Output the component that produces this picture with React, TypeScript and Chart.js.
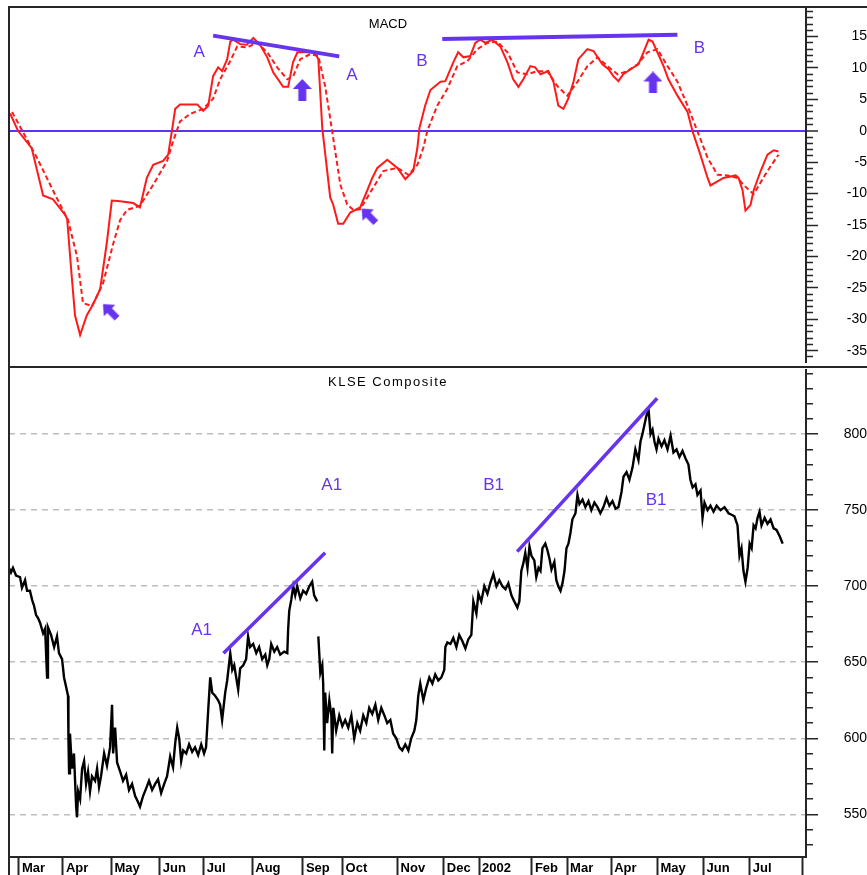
import React, { useEffect, useRef } from 'react';
import { Chart, registerables } from 'chart.js';

Chart.register(...registerables);

const FONT = "'Liberation Sans', Arial, Helvetica, sans-serif";
const RED = '#ff1a1a';
const BLUE = '#6633ee';
const INK = '#262626';

// x axis: trading-day index
const dayMin = 0;
const dayMax = 362;

const monthStarts = [4.5, 24.5, 46.5, 68.5, 88.5, 110.5, 133.5, 151.5, 176.5, 197.5, 213.5, 237.5, 253.5, 273.5, 294.5, 315.5, 336.5, 360.5];
const monthLabels = ['Mar', 'Apr', 'May', 'Jun', 'Jul', 'Aug', 'Sep', 'Oct', 'Nov', 'Dec', '2002', 'Feb', 'Mar', 'Apr', 'May', 'Jun', 'Jul', ''];

// MACD panel
const macdMin = -36.8;
const macdMax = 19.55;

const macdLine: [number, number][] = [
  [0.5, 2.75], [4.1, 0], [10.3, -2.75], [15.5, -10.3], [20, -10.9], [25.5, -13.4], [26.4, -14], [28.5, -23.2],
  [30, -29.4], [32.3, -32.5], [35.3, -29.4], [38.2, -27.6], [41.4, -25.2], [44.4, -17.9], [46.7, -11.1], [50.5, -11.2],
  [56.4, -11.5], [59.5, -12.2], [62.6, -7.5], [65.5, -5.4], [70, -4.8], [72.3, -3.8], [74, 0], [75.5, 3.5],
  [77.7, 4.2], [85.5, 4.2], [88.2, 3.2], [90.5, 4], [92.7, 8.7], [95, 10.1], [96.8, 9.5], [99.1, 11.4],
  [100.5, 14.2], [101.8, 14.5], [105, 13.8], [108, 13.7], [111, 14.8], [114, 13.7], [117.3, 11.7], [120, 9.3],
  [124.5, 7], [126.8, 7], [129, 10.9], [131, 12.5], [139, 12.5], [140.5, 11.4], [142.3, 0.4], [145.9, -10.6],
  [147.3, -11.8], [149.5, -14.8], [151.8, -14.8], [155, -13], [159.5, -12.2], [162.7, -9.5], [165, -7.5], [167.3, -5.9],
  [171.8, -4.6], [176.4, -5.9], [180, -7.7], [183.6, -6.4], [185.5, -2.7], [186.4, 0.4], [189, 4], [191.4, 6.5],
  [196, 7.8], [198.2, 7.9], [201.8, 10.9], [204, 12.5], [206.4, 11.7], [209.5, 11.9], [211.8, 14], [214, 14.5],
  [216.4, 14], [219.5, 14.5], [223.2, 13.4], [226.4, 10.9], [229, 8.2], [231.4, 7], [233.6, 8.2], [236.8, 10.3],
  [239, 10.1], [241.4, 9], [245, 9.5], [247.3, 7.8], [249.5, 4], [251.8, 3.5], [254, 5.1], [256.4, 7.8],
  [258.6, 11.4], [262.7, 13], [265.5, 12.7], [269.5, 10.6], [272.3, 9.8], [274.5, 8.7], [276.8, 7.9], [279, 9],
  [282.3, 9.8], [285.9, 10.6], [288.2, 12.5], [290.5, 14.5], [292.3, 14.2], [294.5, 12.5], [297.3, 10.3], [299.5, 8.2],
  [303.6, 5.6], [308.2, 3], [310.5, -0.1], [314, -3.8], [317.3, -7.5], [318.6, -8.7], [324.5, -7.5], [330, -7.1],
  [331.4, -7.5], [333.2, -9.5], [334.5, -12.7], [336.8, -11.8], [338.2, -9.5], [341.4, -6.4], [344.5, -3.8], [347.3, -3.1],
  [349.5, -3.3],
];

const signalLine: [number, number][] = [
  [1.4, 3], [12.7, -4.3], [20, -9.5], [22.3, -11.1], [26.8, -14.2], [30.9, -20], [33.6, -27.4], [37.7, -27.9],
  [42.7, -24.3], [47.3, -18], [50.5, -14.2], [53.6, -12.6], [59.5, -11.9], [65.5, -8.6], [67.3, -7.5], [71.8, -4.8],
  [74.5, -1.7], [77.7, 1.5], [82.3, 2.7], [88.2, 3.5], [92.7, 5.1], [95.9, 8.2], [100.5, 11.1], [103.6, 13.4],
  [108.2, 13.3], [112.7, 14], [117.3, 12.5], [121.8, 10.1], [126.4, 8.2], [129.1, 8.7], [132.3, 11.4], [136.8, 12.2],
  [140.5, 11.9], [143.6, 7.1], [146.8, -0.1], [150.5, -8.6], [153.6, -11.7], [156.4, -12.6], [159.5, -12.5], [165.5, -9],
  [170, -6.4], [176.4, -5.9], [181.4, -7], [185.5, -5.4], [188.2, -2.7], [190, 0], [194.5, 4], [199.1, 6.7],
  [203.6, 10.3], [208.2, 11.1], [212.7, 13], [217.3, 14], [221.8, 14.2], [226.4, 12.5], [230.9, 9.3], [235.5, 9],
  [240, 9.5], [244.5, 9.5], [249.1, 7.1], [253.6, 5.6], [258.2, 7.8], [262.7, 10.3], [267.3, 11.7], [271.8, 10.3],
  [276.4, 9], [280.9, 9.5], [285.5, 10.6], [290, 12.5], [294.5, 13], [299.1, 10.3], [303.6, 7.8], [308.2, 4],
  [312.7, -0.1], [317.3, -4.3], [321.8, -7], [326.4, -7.1], [330.9, -7.5], [333.6, -8.6], [338.2, -10.1], [341.4, -8.2],
  [344.5, -6.4], [349.5, -3.8],
];

const trendA: [number, number][] = [[92.7, 15.15], [150, 11.85]];
const trendB: [number, number][] = [[196.8, 14.6], [303.6, 15.3]];

const arrowDays = [133.2, 292.5, 45.9, 163.4];
const arrowValues = [6.5, 7.7, -28.7, -13.5];
const arrowAngles = [0, 0, -45, -45];
const arrowBig = [true, true, false, false];

const macdText = ['A', 'A', 'B', 'B'];
const macdTextDays = [86.4, 155.7, 187.5, 313.6];
const macdTextValues = [12.5, 8.8, 11.1, 13.1];

// Price panel
const priceMin = 521.9;
const priceMax = 842.2;

const priceLine: [number, number | null][] = [
  [0, 712], [0.9, 709], [1.8, 712], [3.2, 707], [5, 706], [5.9, 699], [7.3, 704], [8.2, 697], [9.5, 697], [10.5, 691],
  [11.4, 687], [12.3, 681], [13.2, 679], [14.1, 676], [15.5, 669], [16.4, 672], [17.3, 640], [17.7, 673], [19.1, 668], [20.5, 660],
  [21.8, 667], [22.7, 656], [24.1, 652], [25, 640], [25.9, 634], [26.8, 628], [27, 600], [27.3, 577], [27.7, 603], [28.6, 580],
  [29.5, 590], [30.5, 555], [30.9, 548], [31.4, 565], [32.3, 560], [33.2, 580], [34.1, 585], [35, 570], [35.9, 578], [36.8, 565],
  [37.7, 575], [39.1, 572], [40, 580], [40.9, 568], [41.8, 575], [43.2, 590], [44.5, 582], [45.9, 594], [46.8, 622], [47.3, 590],
  [48.2, 607], [49.1, 584], [50.5, 578], [51.8, 572], [53.2, 576], [54.5, 566], [55.9, 570], [57.3, 562], [58.6, 558], [59.5, 555],
  [60.9, 562], [62.3, 567], [63.6, 572], [65, 566], [66.4, 570], [67.7, 573], [69.1, 564], [70.5, 570], [71.8, 575], [73.2, 588],
  [74.5, 581], [75.5, 597], [76.4, 607], [77.3, 600], [78.2, 585], [79.1, 592], [80.5, 590], [81.8, 596], [83.2, 591], [84.5, 594],
  [85.9, 589], [87.3, 596], [88.6, 590], [89.5, 594], [90.5, 619], [91.4, 640], [92.3, 630], [93.6, 628], [95, 625], [95.9, 622],
  [96.8, 612], [98.2, 630], [99.1, 638], [100.5, 656], [101.4, 645], [102.3, 648], [103.2, 640], [104.1, 632], [105, 646], [106.4, 648],
  [107.7, 652], [108.6, 667], [109.5, 660], [110.9, 662], [112.3, 656], [113.6, 660], [115, 652], [116.4, 655], [117.3, 648], [118.2, 652],
  [119.1, 662], [120.5, 657], [121.8, 660], [123.2, 655], [125, 657], [126.4, 656], [126.8, 672], [127.3, 684], [128.2, 691], [129.1, 700],
  [130, 694], [130.9, 700], [132.3, 692], [133.6, 697], [135, 695], [136.4, 700], [137.7, 703], [138.6, 694], [140, 690], [140.2, null],
  [140.5, 667], [141.4, 643], [142.3, 648], [142.7, 636], [143.2, 592], [143.6, 630], [144.5, 610], [145.5, 625], [146.4, 615], [146.8, 590],
  [147.3, 620], [148.6, 605], [150, 615], [151.4, 608], [152.7, 612], [154.1, 607], [155.5, 615], [156.8, 600], [158.2, 610], [159.5, 605],
  [160.9, 615], [162.3, 610], [163.6, 620], [165, 616], [166.4, 622], [167.7, 612], [169.1, 620], [170.5, 615], [171.8, 610], [173.2, 612],
  [174.5, 603], [175.9, 600], [177.3, 594], [178.6, 592], [180, 596], [181.4, 592], [182.7, 600], [184.1, 605], [185, 612], [185.9, 628],
  [186.8, 636], [188.2, 625], [189.5, 633], [190.9, 640], [192.3, 636], [193.6, 642], [195, 638], [196.4, 640], [197.7, 645], [198.2, 660],
  [199.1, 663], [200.5, 662], [201.8, 666], [203.2, 660], [204.5, 668], [205.9, 664], [207.3, 659], [208.6, 665], [210, 668], [210.9, 690],
  [212.3, 682], [213.2, 695], [214.5, 690], [215.9, 700], [217.3, 695], [218.6, 702], [220, 708], [221.4, 700], [222.7, 704], [224.1, 700],
  [225.5, 698], [226.8, 702], [228.2, 694], [229.5, 690], [230.9, 686], [231.8, 690], [232.7, 710], [233.6, 715], [234.5, 722], [235.5, 712],
  [236.4, 726], [237.3, 720], [238.6, 717], [239.5, 706], [240.5, 712], [241.4, 710], [242.3, 725], [243.6, 728], [244.5, 724], [245.5, 718],
  [246.4, 711], [247.7, 716], [248.6, 704], [249.5, 700], [250.5, 697], [251.4, 702], [252.3, 710], [253.2, 725], [254.1, 728], [255, 735],
  [255.9, 744], [257.3, 748], [258.2, 760], [259.1, 754], [260.5, 757], [261.8, 752], [263.2, 756], [264.5, 750], [265.9, 755], [267.3, 752],
  [268.6, 748], [270, 752], [271.4, 758], [272.7, 753], [274.1, 756], [275.5, 751], [276.8, 752], [278.2, 762], [279.1, 772], [280.5, 775],
  [281.8, 770], [283.2, 778], [284.5, 790], [285.9, 783], [286.8, 795], [287.7, 800], [288.6, 806], [289.5, 812], [290.5, 816], [291.4, 800],
  [292.3, 803], [293.2, 795], [294.1, 790], [295, 797], [296.4, 792], [297.7, 796], [299.1, 790], [300.5, 799], [301.8, 788], [303.2, 790],
  [304.5, 785], [305.9, 789], [307.3, 784], [308.6, 780], [309.5, 770], [310.5, 765], [311.8, 767], [312.7, 760], [314.1, 763], [315, 745],
  [315.9, 755], [317.3, 750], [318.6, 753], [320, 749], [321.4, 753], [323.2, 750], [325, 752], [326.8, 748], [328.2, 747], [329.5, 746],
  [330.9, 740], [331.8, 720], [332.7, 725], [333.6, 710], [334.5, 703], [335.5, 712], [336.4, 728], [337.3, 725], [338.2, 740], [339.1, 738],
  [340, 745], [340.9, 749], [341.8, 740], [343.2, 745], [344.5, 741], [345.9, 744], [347.3, 738], [348.6, 737], [350, 733], [351.4, 728],
];

const trendA1: [number, number][] = [[97.4, 655.9], [143.6, 722]];
const trendB1: [number, number][] = [[230.8, 722.7], [294.4, 823.6]];

const priceText = ['A1', 'A1', 'B1', 'B1'];
const priceTextDays = [146.6, 87.5, 220.1, 293.9];
const priceTextValues = [766.2, 671.2, 766.2, 756.7];

const toXY = (arr: [number, number | null][]) => arr.map(([x, y]) => ({ x, y }));

function makeArrow(w: number, h: number, color: string) {
  const c = document.createElement('canvas');
  c.width = w;
  c.height = h;
  const g = c.getContext('2d')!;
  g.fillStyle = color;
  const head = h * 0.46;
  const shaft = w * 0.42;
  g.beginPath();
  g.moveTo(w / 2, 0);
  g.lineTo(w, head);
  g.lineTo(w / 2 + shaft / 2, head);
  g.lineTo(w / 2 + shaft / 2, h);
  g.lineTo(w / 2 - shaft / 2, h);
  g.lineTo(w / 2 - shaft / 2, head);
  g.lineTo(0, head);
  g.closePath();
  g.fill();
  return c;
}

function textPlugin(id: string, texts: string[], days: number[], values: number[], size: number) {
  return {
    id,
    afterDatasetsDraw(chart: any) {
      const { ctx, scales } = chart;
      ctx.save();
      ctx.font = `${size}px ${FONT}`;
      ctx.fillStyle = BLUE;
      ctx.textAlign = 'center';
      ctx.textBaseline = 'middle';
      texts.forEach((t, i) => {
        ctx.fillText(t, scales.x.getPixelForValue(days[i]), scales.y.getPixelForValue(values[i]));
      });
      ctx.restore();
    },
  };
}

function framePlugin(id: string, title: string, titleX: number, titleY: number, spacing: number, top: boolean) {
  return {
    id,
    afterDraw(chart: any) {
      const { ctx, width, height } = chart;
      ctx.save();
      ctx.strokeStyle = INK;
      ctx.lineWidth = 2;
      ctx.beginPath();
      if (top) {
        ctx.moveTo(8, 7);
        ctx.lineTo(width, 7);
        ctx.moveTo(9, 6);
        ctx.lineTo(9, height);
        ctx.moveTo(8, height - 1);
        ctx.lineTo(width, height - 1);
      } else {
        ctx.moveTo(9, 0);
        ctx.lineTo(9, height);
      }
      ctx.stroke();
      ctx.fillStyle = '#000';
      ctx.font = `13px ${FONT}`;
      ctx.textAlign = 'center';
      ctx.textBaseline = 'middle';
      (ctx as any).letterSpacing = `${spacing}px`;
      ctx.fillText(title, titleX, titleY);
      ctx.restore();
    },
  };
}

const isMult = (v: number, m: number) => Math.abs(v / m - Math.round(v / m)) < 1e-6;

export default function App() {
  const topRef = useRef<HTMLCanvasElement>(null);
  const botRef = useRef<HTMLCanvasElement>(null);

  useEffect(() => {
    Chart.defaults.font.family = FONT;
    const big = makeArrow(19, 22, BLUE);
    const small = makeArrow(16, 20, BLUE);

    const common: any = {
      responsive: false,
      animation: false,
      devicePixelRatio: 1,
      events: [],
      plugins: { legend: { display: false }, tooltip: { enabled: false }, title: { display: false } },
      elements: { point: { radius: 0 }, line: { tension: 0 } },
    };

    const c1 = new Chart(topRef.current!, {
      type: 'line',
      data: {
        datasets: [
          { data: toXY(trendA), borderColor: BLUE, borderWidth: 4 },
          { data: toXY(trendB), borderColor: BLUE, borderWidth: 4 },
          { data: toXY(signalLine), borderColor: RED, borderWidth: 2, borderDash: [5, 3] },
          { data: toXY(macdLine), borderColor: RED, borderWidth: 2 },
          {
            data: arrowDays.map((d, i) => ({ x: d, y: arrowValues[i] })),
            showLine: false,
            pointRadius: 5,
            pointStyle: arrowBig.map((b) => (b ? big : small)),
            pointRotation: arrowAngles,
          },
        ] as any,
      },
      options: {
        ...common,
        layout: { padding: { left: 9, top: 8, right: 0, bottom: 1 } },
        scales: {
          x: { type: 'linear', display: false, min: dayMin, max: dayMax },
          y: {
            type: 'linear',
            position: 'right',
            min: macdMin,
            max: macdMax,
            afterBuildTicks: (s: any) => {
              const t = [];
              for (let v = Math.ceil(s.min); v <= Math.floor(s.max); v++) t.push({ value: v });
              s.ticks = t;
            },
            afterFit: (s: any) => {
              s.width = 61;
              s.paddingTop = 0;
              s.paddingBottom = 0;
            },
            ticks: {
              autoSkip: false,
              padding: 27,
              crossAlign: 'far',
              color: '#000',
              font: { family: FONT, size: 14 },
              callback: (v: any) => (isMult(Number(v), 5) ? String(Math.round(Number(v))) : ''),
            },
            grid: {
              drawOnChartArea: true,
              tickLength: 12,
              color: (c: any) => (c.tick && c.tick.value === 0 ? '#5a33f5' : 'rgba(0,0,0,0)'),
              lineWidth: (c: any) => (c.tick && c.tick.value === 0 ? 2 : 1),
              tickColor: INK,
              tickWidth: 1.5,
              tickBorderDash: (c: any) => (c.tick && isMult(c.tick.value, 5) ? [] : [6, 100]),
            },
            border: { display: true, color: INK, width: 2 },
          },
        },
      } as any,
      plugins: [
        textPlugin('macdText', macdText, macdTextDays, macdTextValues, 17),
        framePlugin('macdFrame', 'MACD', 388, 24, 0, true),
      ],
    });

    const c2 = new Chart(botRef.current!, {
      type: 'line',
      data: {
        datasets: [
          { data: toXY(trendA1), borderColor: BLUE, borderWidth: 3.5 },
          { data: toXY(trendB1), borderColor: BLUE, borderWidth: 3.5 },
          { data: toXY(priceLine), borderColor: '#000', borderWidth: 2.4, spanGaps: false },
        ] as any,
      },
      options: {
        ...common,
        layout: { padding: { left: 9, top: 2, right: 0, bottom: 0 } },
        scales: {
          x: {
            type: 'linear',
            position: 'bottom',
            min: dayMin,
            max: dayMax,
            afterBuildTicks: (s: any) => {
              s.ticks = monthStarts.map((v) => ({ value: v }));
            },
            afterFit: (s: any) => {
              s.height = 18;
              s.paddingLeft = 0;
              s.paddingRight = 0;
            },
            ticks: {
              autoSkip: false,
              maxRotation: 0,
              minRotation: 0,
              align: 'start',
              labelOffset: 3,
              padding: -14,
              color: '#000',
              font: { family: FONT, size: 13, weight: 'bold' },
              callback: (_v: any, i: number) => monthLabels[i] ?? '',
            },
            grid: { drawOnChartArea: false, drawTicks: true, tickLength: 18, tickColor: INK, tickWidth: 2 },
            border: { display: true, color: INK, width: 2 },
          },
          y: {
            type: 'linear',
            position: 'right',
            min: priceMin,
            max: priceMax,
            afterBuildTicks: (s: any) => {
              const t = [];
              for (let v = Math.ceil(s.min / 10) * 10; v <= s.max; v += 10) t.push({ value: v });
              s.ticks = t;
            },
            afterFit: (s: any) => {
              s.width = 61;
              s.paddingTop = 0;
              s.paddingBottom = 0;
            },
            ticks: {
              autoSkip: false,
              padding: 24,
              crossAlign: 'far',
              color: '#000',
              font: { family: FONT, size: 14 },
              callback: (v: any) => (isMult(Number(v), 50) ? String(Math.round(Number(v))) : ''),
            },
            grid: {
              drawOnChartArea: true,
              tickLength: 12,
              color: (c: any) => (c.tick && isMult(c.tick.value, 50) ? '#bdbdbd' : 'rgba(0,0,0,0)'),
              lineWidth: 1.5,
              tickColor: INK,
              tickWidth: 1.5,
              tickBorderDash: (c: any) => (c.tick && isMult(c.tick.value, 50) ? [] : [6, 100]),
            },
            border: { display: true, color: INK, width: 2, dash: (c: any) => (c.tick ? [6, 5] : []) },
          },
        },
      } as any,
      plugins: [
        textPlugin('priceText', priceText, priceTextDays, priceTextValues, 17),
        framePlugin('priceFrame', 'KLSE Composite', 388, 14, 1.5, false),
      ],
    });

    return () => {
      c1.destroy();
      c2.destroy();
    };
  }, []);

  return (
    <div style={{ position: 'fixed', left: 0, top: 0, width: 867, height: 875, background: '#fff', overflow: 'hidden' }}>
      <canvas ref={topRef} width={867} height={368} style={{ position: 'absolute', left: 0, top: 0, width: 867, height: 368 }} />
      <canvas ref={botRef} width={867} height={507} style={{ position: 'absolute', left: 0, top: 368, width: 867, height: 507 }} />
    </div>
  );
}
